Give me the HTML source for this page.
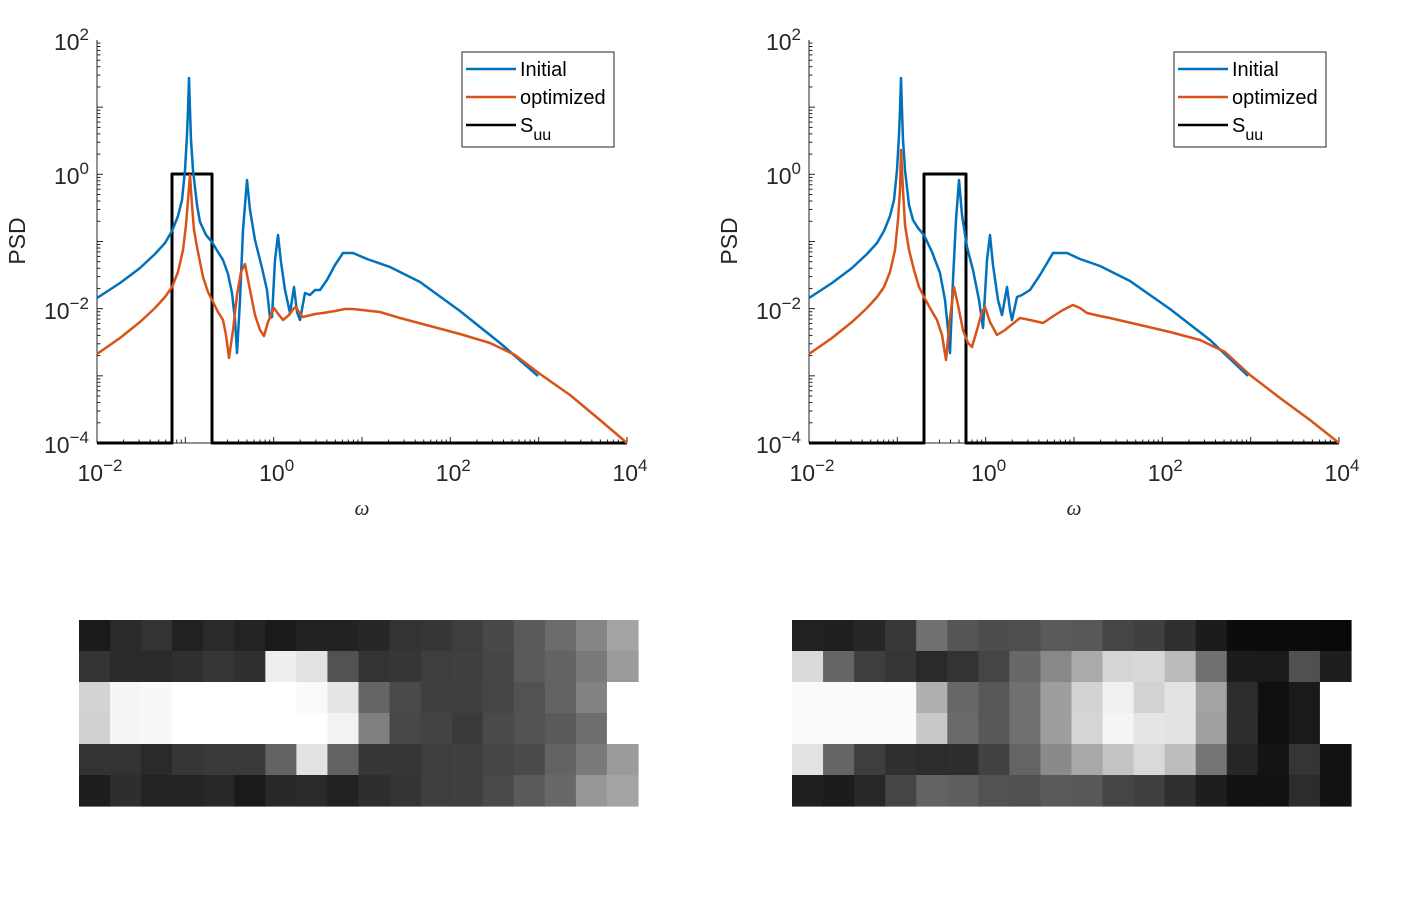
<!DOCTYPE html>
<html><head><meta charset="utf-8"><style>
html,body{margin:0;padding:0;background:#fff;}
svg{display:block;font-family:"DejaVu Sans","Liberation Sans",sans-serif;}
</style></head><body>
<svg id="s" width="1405" height="906" xmlns="http://www.w3.org/2000/svg">
<rect width="1405" height="906" fill="#fff"/>
<g id="g"></g>
</svg>
<script>
const NS="http://www.w3.org/2000/svg";
const g=document.getElementById('g');
function el(t,a,txt){const e=document.createElementNS(NS,t);for(const k in a)e.setAttribute(k,a[k]);if(txt!==undefined)e.textContent=txt;g.appendChild(e);return e;}
function pl(pts,c,w){el('polyline',{points:pts.map(p=>p.join(',')).join(' '),fill:'none',stroke:c,'stroke-width':w,'stroke-linejoin':'round'});}
const B='#0072bd',O='#d95319';
function axes(ox){
  const x0=97+ox,x1=627+ox,y0=40,y1=443;
  el('line',{x1:x0,y1:y0,x2:x0,y2:y1,stroke:'#262626','stroke-width':1});
  el('line',{x1:x0,y1:y1,x2:x1,y2:y1,stroke:'#262626','stroke-width':1});
  const dx=88.33,dy=67.17;
  for(let d=0;d<6;d++)for(let m=1;m<10;m++){
    const x=x0+dx*(d+Math.log10(m));
    el('line',{x1:x,y1:y1,x2:x,y2:y1-(m==1?6:3.5),stroke:'#262626','stroke-width':1});}
  el('line',{x1:x1,y1:y1,x2:x1,y2:y1-6,stroke:'#262626'});
  for(let d=0;d<6;d++)for(let m=1;m<10;m++){
    const y=y1-dy*(d+Math.log10(m));
    el('line',{x1:x0,y1:y,x2:x0+(m==1?6:3.5),y2:y,stroke:'#262626','stroke-width':1});}
  const yl=[['2',40],['0',174],['-2',309],['-4',443]];
  yl.forEach(([e,y])=>{const t=el('text',{x:x0-8,y:y+10,'text-anchor':'end','font-size':21,fill:'#262626','font-family':'Liberation Sans,sans-serif'});
    t.innerHTML='<tspan font-size="23">10</tspan><tspan dy="-10" font-size="17">'+(e[0]=='-'?'\u2212'+e.slice(1):e)+'</tspan>';});
  const xl=[['-2',0],['0',2],['2',4],['4',6]];
  xl.forEach(([e,d])=>{const x=x0+dx*d;const t=el('text',{x:x+3,y:481,'text-anchor':'middle','font-size':21,fill:'#262626','font-family':'Liberation Sans,sans-serif'});
    t.innerHTML='<tspan font-size="23">10</tspan><tspan dy="-10" font-size="17">'+(e[0]=='-'?'\u2212'+e.slice(1):e)+'</tspan>';});
  el('text',{x:x0+265,y:515,'text-anchor':'middle','font-size':21,'font-style':'italic',fill:'#262626','font-family':'Liberation Serif,serif'},'\u03c9');
  el('text',{x:0,y:0,'text-anchor':'middle','font-size':23,fill:'#262626','font-family':'Liberation Sans,sans-serif',transform:`translate(${ox+25},241) rotate(-90)`},'PSD');
  const lx=462+ox;
  el('rect',{x:lx,y:52,width:152,height:95,fill:'#fff',stroke:'#262626','stroke-width':1});
  [[B,69,'Initial'],[O,97,'optimized'],['#000',125,'S']].forEach(([c,y,t])=>{
    el('line',{x1:lx+4,y1:y,x2:lx+54,y2:y,stroke:c,'stroke-width':2.5});
    const tt=el('text',{x:lx+58,y:y+7,'font-size':20,fill:'#000','font-family':'Liberation Sans,sans-serif'},t);
    if(t=='S')tt.innerHTML='S<tspan dy="8" font-size="16">uu</tspan>';
  });
}
axes(0);axes(712);
pl([[97,443],[172,443],[172,174],[212,174],[212,443],[627,443]],'#000',3);
const blueTail=[[343,253],[353,253],[367,259],[390,267],[420,282],[460,311],[500,343],[538,376]];
pl([[97,298],[120,283],[140,268],[155,254],[165,243],[172,231],[178,216],[182,200],[185,170],[187,135],[188,110],[189,78],[190,110],[191,140],[193,170],[197,205],[200,222],[206,235],[212,242],[218,252],[223,260],[228,274],[232,293],[235,320],[237,353],[240,300],[243,230],[247,180],[250,210],[255,240],[262,268],[267,290],[270,318],[272,317],[275,260],[278,235],[281,262],[285,290],[290,313],[294,287],[297,312],[300,320],[305,293],[310,295],[315,290],[320,290],[327,280],[335,265]].concat(blueTail),B,2.5);
const orTail=[[353,309],[380,312],[400,318],[430,326],[460,334],[490,343],[515,355],[540,374],[570,395],[600,420],[627,443]];
pl([[97,354],[120,338],[140,322],[155,308],[165,297],[172,287],[178,272],[183,250],[186,225],[188,200],[190,175],[192,205],[194,230],[197,247],[200,262],[203,277],[208,292],[212,300],[218,312],[223,320],[226,335],[229,358],[233,330],[237,295],[241,272],[245,264],[249,285],[255,315],[260,330],[264,336],[268,322],[274,308],[279,315],[283,320],[289,315],[294,308],[296,307],[300,314],[303,317],[315,314],[323,313],[335,311],[345,309]].concat(orTail),O,2.5);
pl([[809,443],[924,443],[924,174],[966,174],[966,443],[1339,443]],'#000',3);
pl([[809,298],[832,283],[852,268],[867,254],[877,243],[884,231],[890,216],[894,200],[897,170],[899,135],[900,110],[901,78],[902,110],[903,140],[905,170],[909,205],[913,220],[918,228],[924,235],[932,252],[940,273],[945,300],[948,330],[950,353],[953,280],[956,220],[959,180],[962,215],[967,247],[973,270],[979,300],[983,328],[987,260],[990,235],[993,265],[998,300],[1002,315],[1007,287],[1010,310],[1012,320],[1017,297],[1022,295],[1030,290],[1040,275],[1053,253],[1067,253],[1080,259],[1100,266],[1130,281],[1170,309],[1210,340],[1248,376]],B,2.5);
pl([[809,354],[832,338],[852,322],[867,308],[877,297],[884,287],[890,272],[895,250],[898,220],[900,190],[901,150],[903,190],[905,225],[909,250],[914,270],[919,287],[924,297],[930,308],[937,320],[942,335],[946,360],[950,318],[954,287],[958,305],[963,330],[968,343],[972,347],[977,330],[982,312],[985,307],[990,322],[997,335],[1005,330],[1020,318],[1030,320],[1043,323],[1055,315],[1063,310],[1073,305],[1080,308],[1087,313],[1100,316],[1110,318],[1140,325],[1170,332],[1200,340],[1225,352],[1250,375],[1280,398],[1310,420],[1339,443]],O,2.5);
const L=[
'1a2a33212a231a2222273336 3e485a6b85a3',
'332a2a2f3630eee252333 63e40465a637a9b',
'd3f5f8ffffffff f9e5654a4040455263 82ff',
'd0f5f8ffffffffff f280484 33a4a525a6eff',
'33332a363a3a63e2633636 3e40464a637a9b',
'1d2e2323281a282a212e33 3e404a5a6896a3'];
const R=[
'221f273870554c4e5a58454030 1c0c0c0c08',
'da653e362a334568 88aad5d7bb701c1a501e',
'fafafafab0685870 9ed3f0d2e2a32c101aff',
'fafafafac86a5870 9ed5f5e5e3a02e101aff',
'e2653e302c2e4264 8aa8c3d9bd74261435 12',
'201c2845625e5250 5a584540301e12122c12'];
function hm(rows,x0,x1){const w=(x1-x0)/18;rows.forEach((r,i)=>{const s=r.replace(/ /g,'');for(let j=0;j<18;j++){const h=s.substr(j*2,2);
 el('rect',{x:(x0+j*w).toFixed(2),y:620+i*31,width:(w+0.6).toFixed(2),height:31.6,fill:'#'+h+h+h});}});}
hm(L,79,638);hm(R,792,1351);
</script>
</body></html>
